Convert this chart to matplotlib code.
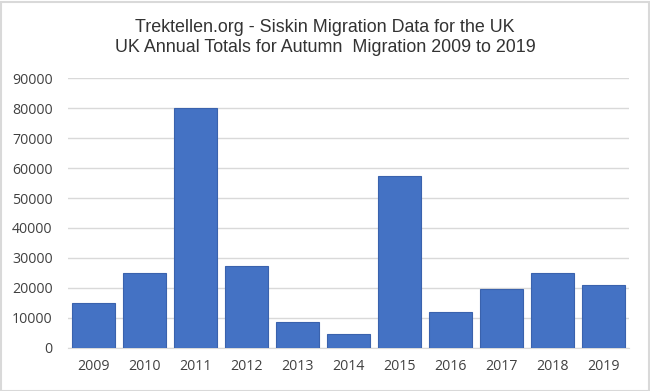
import numpy as np
import matplotlib.pyplot as plt
from matplotlib.patches import Rectangle

years = ["2009", "2010", "2011", "2012", "2013", "2014",
         "2015", "2016", "2017", "2018", "2019"]
totals = [14800, 25000, 80000, 27200, 8500, 4600,
          57300, 11900, 19600, 25000, 20800]
y_ticks = list(range(0, 90001, 10000))

bar_color = "#4472C4"
edge_color = "#3A62AD"
grid_color = "#D9D9D9"
tick_color = "#404040"
title_color = "#333333"

fig = plt.figure(figsize=(6.5, 3.91), dpi=100)
ax = fig.add_axes([68 / 650, 1 - 347.7 / 391, 561 / 650, 269.4 / 391])

x = np.arange(len(years))
ax.bar(x, totals, width=0.83, color=bar_color, edgecolor=edge_color,
       linewidth=0.8, zorder=3)

ax.set_xlim(-0.5, len(years) - 0.5)
ax.set_ylim(0, 90000)
ax.set_yticks(y_ticks)
ax.set_yticklabels([str(v) for v in y_ticks])
ax.set_xticks(x)
ax.set_xticklabels(years)
ax.yaxis.grid(True, color=grid_color, linewidth=1, zorder=0)
for side in ["top", "right", "left"]:
    ax.spines[side].set_visible(False)
ax.spines["bottom"].set_color(grid_color)
ax.tick_params(axis="both", length=0, labelsize=10.2, colors=tick_color,
               labelfontfamily="Open Sans")
ax.tick_params(axis="y", pad=11)
ax.tick_params(axis="x", pad=8)

fig.text(0.5, 1 - 27 / 391, "Trektellen.org - Siskin Migration Data for the UK",
         ha="center", va="center", fontsize=12.9, color=title_color,
         family="Liberation Sans")
fig.text(0.5, 1 - 48 / 391, "UK Annual Totals for Autumn  Migration 2009 to 2019",
         ha="center", va="center", fontsize=12.9, color=title_color,
         family="Liberation Sans")

fig.patches.append(Rectangle((0.5 / 650, 0.5 / 391), 648 / 650, 389 / 391,
                             transform=fig.transFigure, fill=False,
                             edgecolor="#D9D9D9", linewidth=1.5))

fig.savefig("out.png", dpi=100)
